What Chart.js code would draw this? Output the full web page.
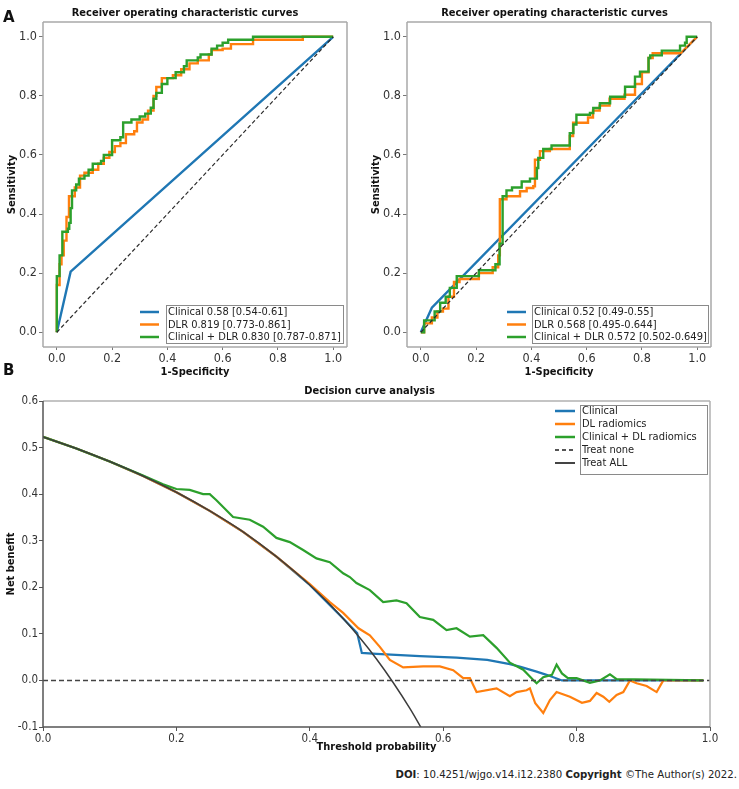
<!DOCTYPE html>
<html>
<head>
<meta charset="utf-8">
<script src="https://cdn.jsdelivr.net/npm/chart.js@4.4.1/dist/chart.umd.min.js"></script>
<style>
  body { margin: 0; background: #fff; width: 739px; height: 789px; position: relative; overflow: hidden; }
  canvas { position: absolute; }
  .tag { position: absolute; font: bold 15px 'DejaVu Sans', sans-serif; color: #111; line-height: 17px; }
  #doi { position: absolute; right: 2px; top: 768px; font: 11.3px 'DejaVu Sans Condensed', 'DejaVu Sans', sans-serif; color: #222; white-space: nowrap; }
</style>
</head>
<body>
<canvas id="rocA" width="370" height="385" style="left:0;top:0"></canvas>
<canvas id="rocB" width="369" height="385" style="left:370px;top:0"></canvas>
<canvas id="dca" width="739" height="380" style="left:0;top:380px"></canvas>
<div class="tag" style="left:3px;top:9px">A</div>
<div class="tag" style="left:3px;top:362px">B</div>
<div id="doi"><b>DOI</b>: 10.4251/wjgo.v14.i12.2380 <b>Copyright</b> ©The Author(s) 2022.</div>
<script>
// ---- ROC, panel 1 ----
const clinFprA = [0, 0.05, 1];
const clinTprA = [0, 0.205, 1];
const dlrFprA = [0, 0, 0.01, 0.017, 0.025, 0.035, 0.044, 0.065, 0.084, 0.10, 0.13, 0.15, 0.17, 0.19, 0.21, 0.23, 0.25, 0.28, 0.29, 0.31, 0.33, 0.35, 0.36, 0.38, 0.42, 0.45, 0.48, 0.51, 0.55, 0.56, 0.60, 0.63, 0.71, 0.89, 1];
const dlrTprA = [0, 0.16, 0.23, 0.26, 0.31, 0.39, 0.46, 0.49, 0.53, 0.54, 0.55, 0.57, 0.59, 0.61, 0.63, 0.64, 0.67, 0.68, 0.71, 0.72, 0.75, 0.80, 0.83, 0.86, 0.87, 0.89, 0.91, 0.92, 0.94, 0.955, 0.96, 0.975, 0.99, 1.0, 1.0];
const combFprA = [0, 0, 0.01, 0.02, 0.04, 0.045, 0.05, 0.055, 0.07, 0.08, 0.10, 0.115, 0.13, 0.16, 0.17, 0.20, 0.20, 0.23, 0.24, 0.27, 0.30, 0.32, 0.34, 0.35, 0.36, 0.38, 0.40, 0.43, 0.46, 0.47, 0.51, 0.52, 0.56, 0.58, 0.60, 0.62, 0.71, 1];
const combTprA = [0, 0.19, 0.26, 0.34, 0.35, 0.37, 0.42, 0.48, 0.50, 0.52, 0.53, 0.55, 0.57, 0.58, 0.60, 0.61, 0.65, 0.66, 0.71, 0.72, 0.73, 0.74, 0.76, 0.79, 0.81, 0.84, 0.86, 0.88, 0.90, 0.92, 0.93, 0.94, 0.96, 0.97, 0.98, 0.99, 1.0, 1.0];
const legendA = ['Clinical 0.58 [0.54-0.61]', 'DLR 0.819 [0.773-0.861]', 'Clinical + DLR 0.830 [0.787-0.871]'];

// ---- ROC, panel 2 ----
const clinFprB = [0, 0.04, 1];
const clinTprB = [0, 0.083, 1];
const dlrFprB = [0, 0.012, 0.04, 0.06, 0.08, 0.10, 0.12, 0.14, 0.21, 0.26, 0.28, 0.286, 0.31, 0.359, 0.383, 0.407, 0.413, 0.431, 0.467, 0.539, 0.551, 0.605, 0.623, 0.647, 0.683, 0.737, 0.775, 0.80, 0.824, 0.839, 0.94, 1];
const dlrTprB = [0, 0.03, 0.05, 0.07, 0.08, 0.12, 0.17, 0.18, 0.20, 0.22, 0.26, 0.45, 0.46, 0.477, 0.488, 0.494, 0.584, 0.613, 0.62, 0.664, 0.709, 0.727, 0.75, 0.767, 0.79, 0.804, 0.84, 0.88, 0.928, 0.944, 0.944, 1.0];
const combFprB = [0, 0.012, 0.05, 0.07, 0.09, 0.105, 0.13, 0.21, 0.27, 0.285, 0.296, 0.31, 0.33, 0.365, 0.395, 0.42, 0.425, 0.443, 0.473, 0.539, 0.552, 0.563, 0.612, 0.624, 0.648, 0.685, 0.739, 0.775, 0.793, 0.824, 0.83, 0.872, 0.938, 0.956, 0.962, 1];
const combTprB = [0, 0.04, 0.07, 0.10, 0.12, 0.15, 0.19, 0.21, 0.23, 0.30, 0.46, 0.48, 0.49, 0.51, 0.52, 0.556, 0.59, 0.62, 0.632, 0.674, 0.703, 0.736, 0.742, 0.759, 0.775, 0.797, 0.831, 0.865, 0.882, 0.928, 0.937, 0.953, 0.97, 0.98, 1.0, 1.0];
const legendB = ['Clinical 0.52 [0.49-0.55]', 'DLR 0.568 [0.495-0.644]', 'Clinical + DLR 0.572 [0.502-0.649]'];

const chanceX = [0, 1];
const chanceY = [0, 1];
const rocTicks = [0, 0.2, 0.4, 0.6, 0.8, 1.0];

// ---- decision curve ----
const clinT  = [0, 0.05, 0.1, 0.15, 0.2, 0.25, 0.3, 0.35, 0.4, 0.45, 0.471, 0.478, 0.5, 0.565, 0.62, 0.666, 0.7, 0.716, 0.74, 0.755, 0.778, 0.99];
const clinNB = [0.523, 0.498, 0.470, 0.439, 0.404, 0.364, 0.319, 0.266, 0.205, 0.133, 0.102, 0.059, 0.057, 0.052, 0.049, 0.044, 0.035, 0.029, 0.019, 0.012, 0.0, 0.0];
const dlT  = [0, 0.05, 0.1, 0.15, 0.2, 0.25, 0.3, 0.35, 0.4, 0.43, 0.45, 0.473, 0.49, 0.505, 0.52, 0.54, 0.57, 0.595, 0.615, 0.63, 0.64, 0.65, 0.68, 0.70, 0.71, 0.725, 0.73, 0.738, 0.75, 0.76, 0.77, 0.79, 0.808, 0.82, 0.83, 0.84, 0.849, 0.86, 0.87, 0.88, 0.89, 0.905, 0.92, 0.93, 0.99];
const dlNB = [0.523, 0.498, 0.470, 0.439, 0.404, 0.364, 0.319, 0.266, 0.207, 0.168, 0.145, 0.112, 0.097, 0.072, 0.044, 0.028, 0.030, 0.030, 0.022, 0.005, 0.005, -0.025, -0.017, -0.034, -0.025, -0.021, -0.017, -0.049, -0.070, -0.042, -0.025, -0.035, -0.048, -0.044, -0.027, -0.035, -0.046, -0.031, -0.025, 0.0, -0.006, -0.012, -0.025, 0.0, 0.0];
const combT  = [0, 0.05, 0.1, 0.15, 0.18, 0.2, 0.22, 0.24, 0.25, 0.26, 0.285, 0.31, 0.33, 0.35, 0.37, 0.39, 0.41, 0.43, 0.45, 0.46, 0.47, 0.49, 0.51, 0.53, 0.545, 0.565, 0.585, 0.605, 0.62, 0.64, 0.66, 0.68, 0.70, 0.72, 0.735, 0.74, 0.75, 0.763, 0.77, 0.778, 0.787, 0.80, 0.82, 0.835, 0.85, 0.86, 0.99];
const combNB = [0.523, 0.498, 0.470, 0.440, 0.421, 0.411, 0.409, 0.400, 0.400, 0.387, 0.351, 0.345, 0.330, 0.306, 0.297, 0.280, 0.262, 0.254, 0.230, 0.222, 0.209, 0.194, 0.168, 0.172, 0.166, 0.136, 0.130, 0.108, 0.112, 0.094, 0.097, 0.070, 0.038, 0.023, 0.001, -0.006, 0.007, 0.012, 0.034, 0.015, 0.005, 0.005, -0.005, 0.0, 0.013, 0.003, 0.0];
const noneT  = [0, 1];
const noneNB = [0, 0];
const allT  = [0, 0.05, 0.1, 0.15, 0.2, 0.25, 0.3, 0.35, 0.4, 0.45, 0.5, 0.55, 0.58];
const allNB = [0.523, 0.498, 0.470, 0.439, 0.404, 0.364, 0.319, 0.266, 0.205, 0.133, 0.046, -0.060, -0.135];
const dcaLegend = ['Clinical', 'DL radiomics', 'Clinical + DL radiomics', 'Treat none', 'Treat ALL'];
const dcaXTicks = [0, 0.2, 0.4, 0.6, 0.8, 1.0];
const dcaYTicks = [-0.1, 0, 0.1, 0.2, 0.3, 0.4, 0.5, 0.6];

const BLUE = '#1f77b4', ORANGE = '#ff7f0e', GREEN = '#2ca02c';
const FONT = "'DejaVu Sans Condensed', 'DejaVu Sans', sans-serif";
Chart.defaults.font.family = FONT;
Chart.defaults.color = '#222';

function pts(xs, ys) {
  return xs.map((x, i) => ({ x, y: ys[i] }));
}
// roc staircase: go across, then up; segments from straightFrom on are drawn direct
function stairs(xs, ys, straightFrom) {
  const out = [];
  xs.forEach((x, i) => {
    if (i > 0 && !(straightFrom && i >= straightFrom)) out.push({ x, y: ys[i - 1] });
    out.push({ x, y: ys[i] });
  });
  return out;
}

// box around the plot area
const framePlugin = {
  id: 'frame',
  afterDatasetsDraw(chart, args, o) {
    if (!o.color) return;
    const a = chart.chartArea, ctx = chart.ctx;
    const side = (c, x1, y1, x2, y2) => {
      ctx.strokeStyle = c; ctx.beginPath(); ctx.moveTo(x1, y1); ctx.lineTo(x2, y2); ctx.stroke();
    };
    ctx.save();
    ctx.lineWidth = o.width;
    side(o.color.top, a.left, a.top, a.right, a.top);
    side(o.color.right, a.right, a.top, a.right, a.bottom);
    side(o.color.bottom, a.left, a.bottom, a.right, a.bottom);
    side(o.color.left, a.left, a.top, a.left, a.bottom);
    ctx.restore();
  }
};

// legend drawn the way the figure has it (frame only round the text)
const boxLegend = {
  id: 'boxLegend',
  afterDraw(chart, args, o) {
    if (!o.items) return;
    const ctx = chart.ctx;
    ctx.save();
    ctx.strokeStyle = '#8a8a8a'; ctx.lineWidth = 1;
    ctx.strokeRect(o.box[0] + 0.5, o.box[1] + 0.5, o.box[2], o.box[3]);
    ctx.font = o.fontSize + 'px ' + FONT;
    ctx.textBaseline = 'middle';
    o.items.forEach((it, i) => {
      const y = o.rows[i];
      ctx.strokeStyle = it.color; ctx.lineWidth = it.width || 2.5;
      ctx.setLineDash(it.dash || []);
      ctx.beginPath(); ctx.moveTo(o.lineX[0], y); ctx.lineTo(o.lineX[1], y); ctx.stroke();
      ctx.setLineDash([]);
      ctx.fillStyle = '#222';
      ctx.fillText(it.label, o.textX, y + 0.5);
    });
    ctx.restore();
  }
};
Chart.register(framePlugin, boxLegend);

function axisTitle(text, pad) {
  return { display: true, text, color: '#111', font: { size: 11, weight: 'bold' }, padding: pad };
}
function spacer(w) {
  return {
    position: 'right', display: true,
    ticks: { display: false }, grid: { display: false }, border: { display: false },
    afterFit: s => { s.width = w; }
  };
}

function rocChart(id, title, clin, dlr, comb, labels, yW, rightW, legendPos) {
  return new Chart(document.getElementById(id), {
    type: 'line',
    data: {
      datasets: [
        { label: labels[0], data: clin, borderColor: BLUE, borderWidth: 2.4, order: 4 },
        { label: labels[1], data: dlr, borderColor: ORANGE, borderWidth: 2.4, order: 3 },
        { label: labels[2], data: comb, borderColor: GREEN, borderWidth: 2.4, order: 2 },
        { label: 'chance', data: pts(chanceX, chanceY), borderColor: '#2a2a2a', borderWidth: 1.2, borderDash: [4, 2.5], order: 1 }
      ]
    },
    options: {
      responsive: false, animation: false, events: [],
      elements: { point: { radius: 0 }, line: { tension: 0 } },
      plugins: {
        legend: { display: false }, tooltip: { enabled: false },
        title: { display: true, text: title, color: '#111', font: { size: 11, weight: 'bold' }, padding: { top: 6.7, bottom: 2.1 } },
        frame: { width: 1.5, color: { top: '#a8a8a8', right: '#a8a8a8', bottom: '#a8a8a8', left: '#a8a8a8' } },
        boxLegend: {
          items: [{ label: labels[0], color: BLUE }, { label: labels[1], color: ORANGE }, { label: labels[2], color: GREEN }],
          lineX: legendPos.lineX, textX: legendPos.textX, rows: [312, 324.5, 337], box: legendPos.box, fontSize: 11
        }
      },
      scales: {
        x: {
          type: 'linear', min: -0.05, max: 1.05,
          afterBuildTicks: s => { s.ticks = rocTicks.map(v => ({ value: v })); },
          afterFit: s => { s.height = 38; },
          ticks: { font: { size: 12.5 }, color: '#333', padding: 1, maxRotation: 0, autoSkip: false, callback: v => v.toFixed(1) },
          grid: { drawOnChartArea: false, tickLength: 3, color: '#777' },
          border: { display: false },
          title: axisTitle('1-Specificity', { top: 0, bottom: 6.5 })
        },
        y: {
          type: 'linear', min: -0.05, max: 1.05,
          afterBuildTicks: s => { s.ticks = rocTicks.map(v => ({ value: v })); },
          afterFit: s => { s.width = yW; },
          ticks: { font: { size: 12.5 }, color: '#333', padding: 2, autoSkip: false, callback: v => v.toFixed(1) },
          grid: { drawOnChartArea: false, tickLength: 4, color: '#777' },
          border: { display: false },
          title: axisTitle('Sensitivity', { top: yW > 40 ? 5.5 : 0, bottom: 0 })
        },
        pad: spacer(rightW)
      }
    }
  });
}

rocChart('rocA', 'Receiver operating characteristic curves',
  pts(clinFprA, clinTprA), stairs(dlrFprA, dlrTprA), stairs(combFprA, combTprA), legendA, 43, 23,
  { lineX: [140, 159], textX: 168, box: [166, 305, 177, 38] });

rocChart('rocB', 'Receiver operating characteristic curves',
  pts(clinFprB, clinTprB), stairs(dlrFprB, dlrTprB, dlrFprB.length - 1), stairs(combFprB, combTprB), legendB, 37, 28,
  { lineX: [137, 156], textX: 164, box: [162, 305, 176, 38] });

new Chart(document.getElementById('dca'), {
  type: 'line',
  data: {
    datasets: [
      { label: dcaLegend[0], data: pts(clinT, clinNB), borderColor: BLUE, borderWidth: 2.2, order: 5 },
      { label: dcaLegend[1], data: pts(dlT, dlNB), borderColor: ORANGE, borderWidth: 2.2, order: 4 },
      { label: dcaLegend[2], data: pts(combT, combNB), borderColor: GREEN, borderWidth: 2.2, order: 3 },
      { label: dcaLegend[3], data: pts(noneT, noneNB), borderColor: '#444', borderWidth: 1.5, borderDash: [5, 3], order: 2 },
      { label: dcaLegend[4], data: pts(allT, allNB), borderColor: '#3c3c3c', borderWidth: 1.5, cubicInterpolationMode: 'monotone', order: 1 }
    ]
  },
  options: {
    responsive: false, animation: false, events: [],
    elements: { point: { radius: 0 }, line: { tension: 0 } },
    plugins: {
      legend: { display: false }, tooltip: { enabled: false },
      title: { display: true, text: 'Decision curve analysis', color: '#111', font: { size: 11, weight: 'bold' }, padding: { top: 4.4, bottom: 3.4 } },
      frame: { width: 1.5, color: { top: '#b0b0b0', right: '#b0b0b0', bottom: '#555', left: '#555' } },
      boxLegend: {
        items: [
          { label: dcaLegend[0], color: BLUE }, { label: dcaLegend[1], color: ORANGE }, { label: dcaLegend[2], color: GREEN },
          { label: dcaLegend[3], color: '#555', dash: [4, 3], width: 2 }, { label: dcaLegend[4], color: '#444', width: 2 }
        ],
        lineX: [555, 575], textX: 582, rows: [31, 44, 57, 70, 83], box: [580, 25, 127, 69], fontSize: 11
      }
    },
    scales: {
      x: {
        type: 'linear', min: 0, max: 1,
        afterBuildTicks: s => { s.ticks = dcaXTicks.map(v => ({ value: v })); },
        afterFit: s => { s.height = 33; },
        ticks: { font: { size: 11.5 }, color: '#333', padding: 1, maxRotation: 0, autoSkip: false, callback: v => v.toFixed(1) },
        grid: { drawOnChartArea: false, tickLength: 4, color: '#555' },
        border: { display: false },
        title: axisTitle('Threshold probability', { top: 0, bottom: 6.5 })
      },
      y: {
        type: 'linear', min: -0.1, max: 0.6,
        afterBuildTicks: s => { s.ticks = dcaYTicks.map(v => ({ value: v })); },
        afterFit: s => { s.width = 43; },
        ticks: { font: { size: 11.5 }, color: '#333', padding: 1, autoSkip: false, callback: v => v.toFixed(1) },
        grid: { drawOnChartArea: false, tickLength: 4, color: '#555' },
        border: { display: false },
        title: axisTitle('Net benefit', { top: 4.5, bottom: 0 })
      },
      pad: spacer(29)
    }
  }
});
</script>
</body>
</html>
